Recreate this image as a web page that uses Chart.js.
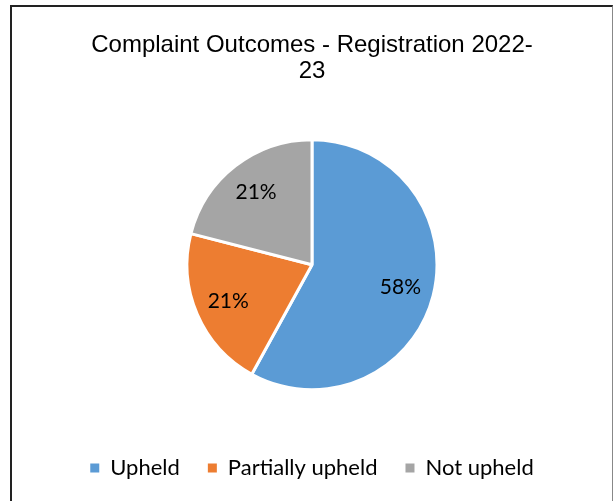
<!DOCTYPE html>
<html>
<head>
<meta charset="utf-8">
<script src="https://cdn.jsdelivr.net/npm/chart.js@4/dist/chart.umd.min.js"></script>
<style>
    body { margin: 0; background: #fff; }
    #wrap { position: relative; width: 613px; height: 501px; overflow: hidden; }
    #frame {
        position: absolute; left: 10px; top: 5px; width: 600px; height: 520px;
        border-top: 2px solid #222; border-left: 2px solid #222; border-right: 1px solid #888;
    }
    #myChart { position: absolute; left: 0; top: 0; }
</style>
</head>
<body>
<div id="wrap">
    <div id="frame"></div>
    <canvas id="myChart" width="613" height="501"></canvas>
</div>
<script>
// chart data
const categories = ['Upheld', 'Partially upheld', 'Not upheld'];
const shares = [58, 21, 21];
const sliceColors = ['#5B9BD5', '#ED7D31', '#A5A5A5'];
const titleLines = ['Complaint Outcomes - Registration 2022-', '23'];

// draws the percentage inside each slice
const sliceLabels = {
    id: 'sliceLabels',
    afterDatasetsDraw(chart) {
        const ctx = chart.ctx;
        const meta = chart.getDatasetMeta(0);
        ctx.save();
        ctx.font = '21px Lato';
        ctx.fillStyle = '#000';
        ctx.textAlign = 'center';
        ctx.textBaseline = 'middle';
        meta.data.forEach(function (arc, i) {
            const p = arc.getProps(['x', 'y', 'startAngle', 'endAngle', 'outerRadius'], true);
            const mid = (p.startAngle + p.endAngle) / 2;
            const r = p.outerRadius * 0.73;
            ctx.fillText(shares[i] + '%', p.x + Math.cos(mid) * r, p.y + Math.sin(mid) * r);
        });
        ctx.restore();
    }
};

const ctx = document.getElementById('myChart').getContext('2d');
const pieChart = new Chart(ctx, {
    type: 'pie',
    data: {
        labels: categories,
        datasets: [{
            data: shares,
            backgroundColor: sliceColors,
            borderColor: '#fff',
            borderWidth: 3,
            radius: 125
        }]
    },
    options: {
        responsive: false,
        animation: false,
        layout: { padding: { left: 11, right: 0, top: 0, bottom: 12 } },
        plugins: {
            tooltip: { enabled: false },
            title: {
                display: true,
                text: titleLines,
                color: '#000',
                font: { family: 'Liberation Sans', size: 24, weight: 'normal', lineHeight: 1.07 },
                padding: { top: 33, bottom: 16 }
            },
            legend: {
                position: 'bottom',
                labels: {
                    color: '#000',
                    font: { family: 'Lato', size: 22 },
                    boxWidth: 9,
                    boxHeight: 9,
                    padding: 28,
                    generateLabels(chart) {
                        // plain filled squares, no white outline
                        return Chart.overrides.pie.plugins.legend.labels.generateLabels(chart)
                            .map(function (item) { item.lineWidth = 0; return item; });
                    }
                }
            }
        }
    },
    plugins: [sliceLabels]
});
</script>
</body>
</html>
